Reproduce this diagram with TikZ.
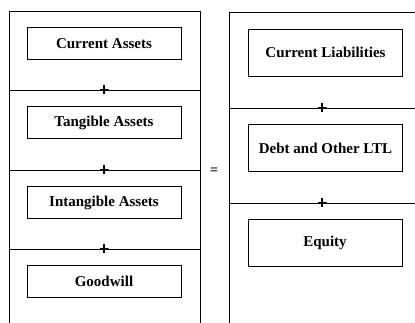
\documentclass[tikz,border=0pt]{standalone}
\usepackage{fontspec}
\setmainfont{Liberation Serif}
\usetikzlibrary{positioning}

\begin{document}
\begin{tikzpicture}[x=1pt, y=-1pt, line width=0.8pt,
    item/.style={draw, rectangle, minimum width=154pt, font=\bfseries\fontsize{15}{17}\selectfont},
    lbox/.style={item, minimum height=32pt},
    rbox/.style={item, minimum height=47pt},
    plus/.style={minimum size=9pt, inner sep=0pt,
      path picture={\draw[line width=1.3pt]
        (path picture bounding box.north) -- (path picture bounding box.south)
        (path picture bounding box.west) -- (path picture bounding box.east);}},
    sign/.style={inner sep=0pt, font=\bfseries\fontsize{14}{14}\selectfont}
    ]
    \useasboundingbox (0,0) rectangle (415,323);

    % assets side
    \draw (9,323) -- (9,11) -- (200,11) -- (200,323);
    \draw (9,90) -- (200,90);
    \draw (9,170) -- (200,170);
    \draw (9,249) -- (200,249);
    \node[lbox] (ca) at (104,43.5) {Current Assets};
    \node[lbox] (ta) at (104,122.5) {Tangible Assets};
    \node[lbox] (ia) at (104,202.5) {Intangible Assets};
    \node[lbox] (gw) at (104,281) {Goodwill};
    \node[plus] (p1) at (104,90) {};
    \node[plus] (p2) at (104,170) {};
    \node[plus] (p3) at (104,249) {};

    \node[sign] (eq) at (214,171) {=};

    % liabilities side
    \draw (415,12) -- (229,12) -- (229,323);
    \draw (229,108) -- (415,108);
    \draw (229,203) -- (415,203);
    \node[rbox] (cl) at (325.5,52.5) {Current Liabilities};
    \node[rbox] (dl) at (325.5,148) {Debt and Other LTL};
    \node[rbox] (eqy) at (325,243) {Equity};
    \node[plus] (p4) at (322,108) {};
    \node[plus] (p5) at (322,203) {};
\end{tikzpicture}
\end{document}
